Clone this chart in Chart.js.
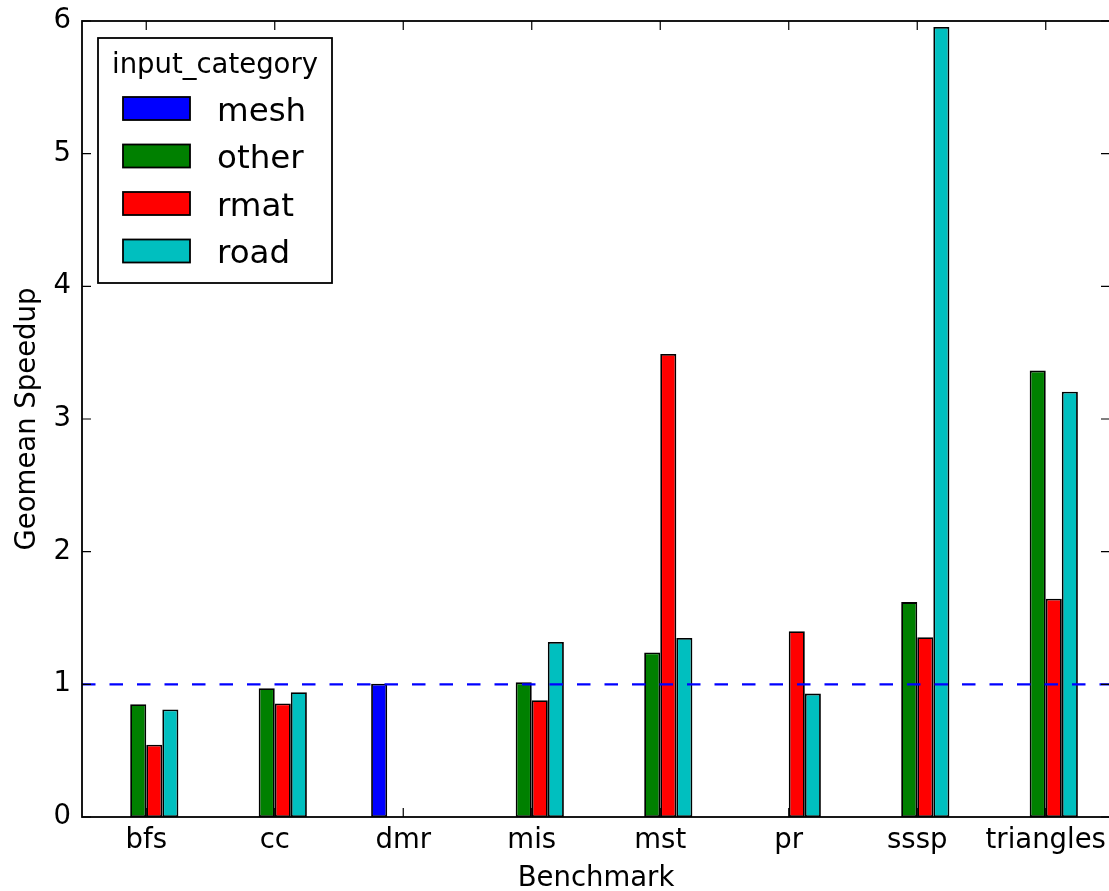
<!DOCTYPE html>
<html>
<head>
<meta charset="utf-8">
<script src="https://cdn.jsdelivr.net/npm/chart.js@4.4.0/dist/chart.umd.min.js"></script>
<style>
  html, body { margin: 0; padding: 0; background: #fff; overflow: hidden; }
  #wrap { position: relative; width: 1112px; height: 895px; }
</style>
</head>
<body>
<div id="wrap"><canvas id="chart"></canvas></div>
<script>
const benchmarks = ["bfs", "cc", "dmr", "mis", "mst", "pr", "sssp", "triangles"];
const categoryNames = ["mesh", "other", "rmat", "road"];
const meshValues  = [0, 0, 1.005, 0, 0, 0, 0, 0];
const otherValues = [0.85, 0.97, 0, 1.015, 1.24, 0, 1.62, 3.365];
const rmatValues  = [0.545, 0.855, 0, 0.88, 3.49, 1.40, 1.355, 1.645];
const roadValues  = [0.81, 0.94, 0, 1.32, 1.35, 0.93, 5.955, 3.205];
const yTicks = [0, 1, 2, 3, 4, 5, 6];
const baselineValue = 1;

const colors = ["#0000ff", "#008000", "#ff0000", "#00bfbf"];
const seriesValues = [meshValues, otherValues, rmatValues, roadValues];
const FONT = "DejaVu Sans";

Chart.defaults.font.family = FONT;
Chart.defaults.color = "#000";

// matplotlib-style frame, inward ticks, dashed reference line and legend
const mplPlugin = {
  id: "mplStyle",
  afterDatasetsDraw(chart) {
    const { ctx, chartArea: a, scales } = chart;
    const y1 = scales.y.getPixelForValue(baselineValue);
    ctx.save();
    ctx.strokeStyle = "#0000ff";
    ctx.lineWidth = 2.2;
    ctx.setLineDash([13.5, 14]);
    ctx.beginPath();
    ctx.moveTo(a.left, y1);
    ctx.lineTo(a.right, y1);
    ctx.stroke();
    ctx.restore();
  },
  afterDraw(chart) {
    const { ctx, chartArea: a, scales } = chart;
    ctx.save();
    ctx.strokeStyle = "#000";
    ctx.lineWidth = 1.8;
    ctx.strokeRect(a.left, a.top, a.right - a.left, a.bottom - a.top);
    ctx.lineWidth = 1.2;
    const tl = 9;
    ctx.beginPath();
    yTicks.forEach(v => {
      const py = scales.y.getPixelForValue(v);
      ctx.moveTo(a.left, py); ctx.lineTo(a.left + tl, py);
      ctx.moveTo(a.right, py); ctx.lineTo(a.right - tl, py);
    });
    benchmarks.forEach((b, i) => {
      const px = scales.x.getPixelForTick(i);
      ctx.moveTo(px, a.bottom); ctx.lineTo(px, a.bottom - tl);
      ctx.moveTo(px, a.top); ctx.lineTo(px, a.top + tl);
    });
    ctx.stroke();

    // legend
    const lx = 98, ly = 38, lw = 234, lh = 245;
    ctx.fillStyle = "#fff";
    ctx.fillRect(lx, ly, lw, lh);
    ctx.lineWidth = 1.8;
    ctx.strokeRect(lx, ly, lw, lh);
    ctx.fillStyle = "#000";
    ctx.textAlign = "center";
    ctx.textBaseline = "alphabetic";
    ctx.font = "27.5px '" + FONT + "'";
    ctx.fillText("input_category", 215, 73);
    chart.data.datasets.forEach((ds, i) => {
      const cy = 108.5 + i * 47.5;
      ctx.fillStyle = ds.backgroundColor;
      ctx.fillRect(123, cy - 11.5, 67, 23);
      ctx.lineWidth = 1.8;
      ctx.strokeStyle = "#000";
      ctx.strokeRect(123, cy - 11.5, 67, 23);
      ctx.fillStyle = "#000";
      ctx.textAlign = "left";
      ctx.font = "32.5px '" + FONT + "'";
      ctx.fillText(ds.label, 217, cy + 12);
    });
    ctx.restore();
  }
};

new Chart(document.getElementById("chart"), {
  type: "bar",
  data: {
    labels: benchmarks,
    datasets: categoryNames.map((name, i) => ({
      label: name,
      data: seriesValues[i],
      backgroundColor: colors[i],
      borderColor: "#000",
      borderWidth: 1.8,
      borderSkipped: false,
      categoryPercentage: 0.5,
      barPercentage: 1.0
    }))
  },
  options: {
    responsive: true,
    maintainAspectRatio: false,
    animation: false,
    layout: { padding: { top: 21, right: 2, left: 0, bottom: 0 } },
    plugins: { legend: { display: false }, tooltip: { enabled: false } },
    scales: {
      x: {
        grid: { display: false, drawTicks: false },
        border: { display: false },
        ticks: { font: { size: 27.5 }, padding: 7, maxRotation: 0, autoSkip: false },
        title: { display: true, text: "Benchmark", font: { size: 27.5 }, padding: { top: 0, bottom: 0 } },
        afterFit(scale) { scale.height = 78; scale.paddingLeft = 0; scale.paddingRight = 0; }
      },
      y: {
        min: 0, max: 6,
        grid: { display: false, drawTicks: false },
        border: { display: false },
        ticks: { stepSize: 1, font: { size: 27.5 }, padding: 11 },
        title: { display: true, text: "Geomean Speedup", font: { size: 27.5 }, padding: { top: 11, bottom: 0 } },
        afterFit(scale) { scale.width = 82; scale.paddingTop = 0; scale.paddingBottom = 0; }
      }
    }
  },
  plugins: [mplPlugin]
});
</script>
</body>
</html>
